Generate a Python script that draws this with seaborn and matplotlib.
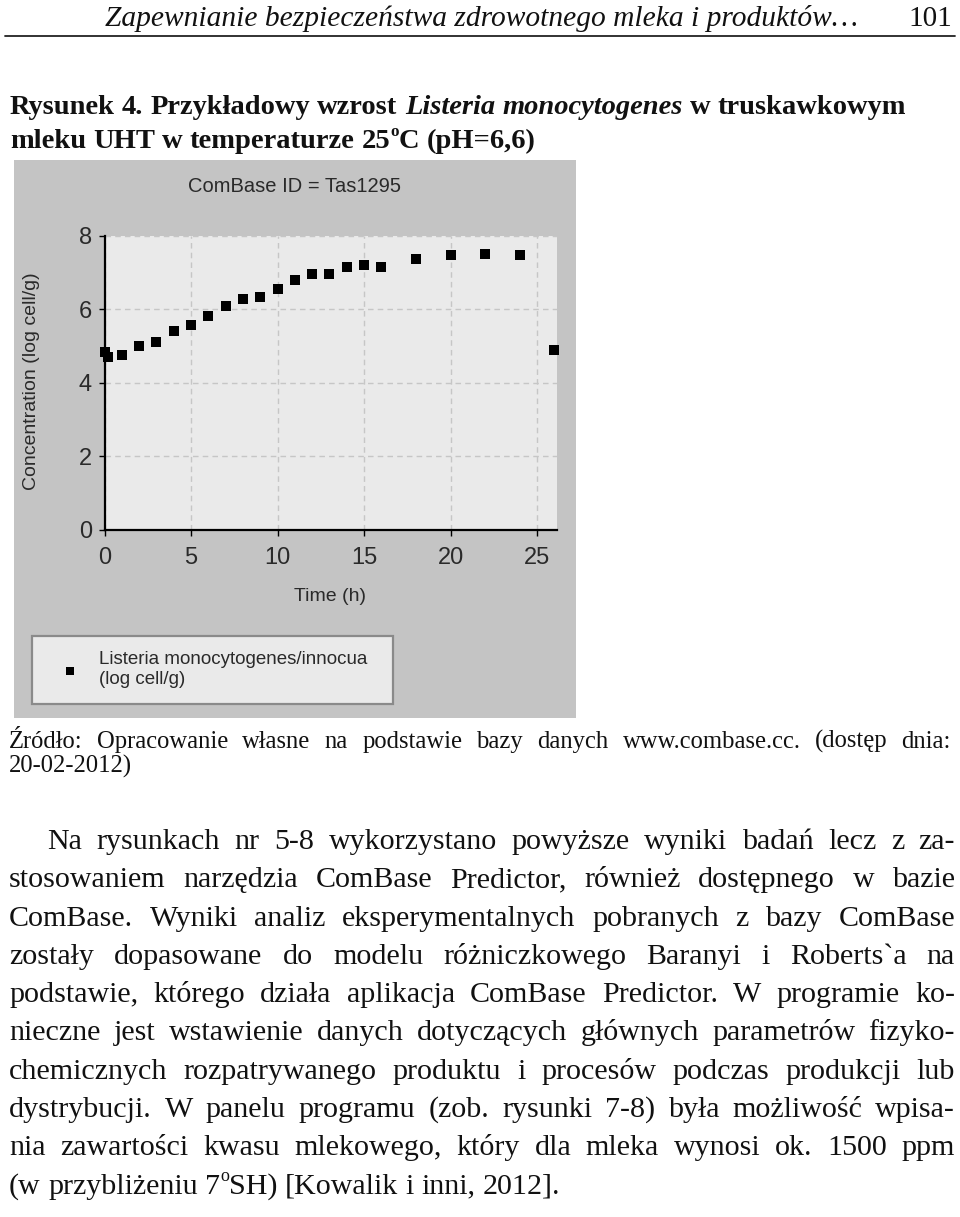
import numpy as np
import pandas as pd
import matplotlib
matplotlib.use('Agg')
import matplotlib.pyplot as plt
import seaborn as sns
from matplotlib import font_manager
from matplotlib.patches import Rectangle
from matplotlib.lines import Line2D

W, H = 960, 1217

# data
time_h = [0, 0.2, 1, 2, 3, 4, 5, 6, 7, 8, 9, 10, 11, 12, 13, 14, 15, 16, 18, 20, 22, 24, 26]
conc = [4.85, 4.70, 4.76, 5.00, 5.10, 5.40, 5.56, 5.83, 6.08, 6.28, 6.33, 6.54, 6.80,
        6.95, 6.95, 7.16, 7.21, 7.16, 7.37, 7.47, 7.51, 7.47, 4.89]
x_ticks = [0, 5, 10, 15, 20, 25]
y_ticks = [0, 2, 4, 6, 8]

chart_title = 'ComBase ID = Tas1295'
x_label = 'Time (h)'
y_label = 'Concentration (log cell/g)'
series_label = 'Listeria monocytogenes/innocua\n(log cell/g)'

# page text (ᵒ is drawn as a small raised "o")
header = 'Zapewnianie bezpieczeństwa zdrowotnego mleka i produktów…'
page_no = '101'
caption_1 = [('Rysunek 4. Przykładowy wzrost', 'normal'), ('Listeria monocytogenes', 'italic'),
             ('w truskawkowym', 'normal')]
caption_2 = 'mleku UHT w temperaturze 25ᵒC (pH=6,6)'
source_lines = ['Źródło: Opracowanie własne na podstawie bazy danych www.combase.cc. (dostęp dnia:',
                '20-02-2012)']
body_lines = [
    'Na rysunkach nr 5-8 wykorzystano powyższe wyniki badań lecz z za-',
    'stosowaniem narzędzia ComBase Predictor, również dostępnego w bazie',
    'ComBase. Wyniki analiz eksperymentalnych pobranych z bazy ComBase',
    'zostały dopasowane do modelu różniczkowego Baranyi i Roberts`a na',
    'podstawie, którego działa aplikacja ComBase Predictor. W programie ko-',
    'nieczne jest wstawienie danych dotyczących głównych parametrów fizyko-',
    'chemicznych rozpatrywanego produktu i procesów podczas produkcji lub',
    'dystrybucji. W panelu programu (zob. rysunki 7-8) była możliwość wpisa-',
    'nia zawartości kwasu mlekowego, który dla mleka wynosi ok. 1500 ppm',
    '(w przybliżeniu 7ᵒSH) [Kowalik i inni, 2012].',
]

names = {f.name for f in font_manager.fontManager.ttflist}
sans = 'Liberation Sans Narrow' if 'Liberation Sans Narrow' in names else 'Liberation Sans'
serif = 'Liberation Serif'

sns.set_style('white')
plt.rcParams['font.family'] = [serif, 'DejaVu Serif']

fig = plt.figure(figsize=(W / 100, H / 100), dpi=100, facecolor='white')
renderer = fig.canvas.get_renderer()


def fx(x):
    return x / W


def fy(y):
    return 1 - y / H


# grey ComBase panel
fig.patches.append(Rectangle((fx(14), fy(718)), (576 - 14) / W, (718 - 160) / H,
                             transform=fig.transFigure, facecolor='#c4c4c4',
                             edgecolor='none', zorder=-10))

ax = fig.add_axes([fx(104.5), fy(530), (557 - 104.5) / W, (530 - 235.7) / H])
df = pd.DataFrame({'time': time_h, 'conc': conc})
sns.scatterplot(data=df, x='time', y='conc', marker='s', s=52, color='black',
                edgecolor='black', linewidth=0, label=series_label, clip_on=False,
                zorder=5, ax=ax)
ax.set_facecolor('#eaeaea')
ax.set_xlim(0, 26.15)
ax.set_ylim(0, 8)
ax.set_xticks(x_ticks)
ax.set_yticks(y_ticks)
ax.grid(True, linestyle=(0, (4, 3)), color='#c6c6c6', linewidth=1)
for side in ['top', 'right']:
    ax.spines[side].set_visible(False)
for side in ['left', 'bottom']:
    ax.spines[side].set_color('black')
    ax.spines[side].set_linewidth(1.6)
ax.tick_params(axis='both', direction='out', length=4, width=1, color='black',
               labelsize=17, labelcolor='#2a2a2a', left=True, bottom=True)
ax.tick_params(axis='x', pad=8)
ax.tick_params(axis='y', pad=5)
for lab in ax.get_xticklabels() + ax.get_yticklabels():
    lab.set_family([sans, 'DejaVu Sans'])
ax.set_xlabel(x_label, fontsize=14, family=[sans, 'DejaVu Sans'], color='#2a2a2a')
ax.set_ylabel(y_label, fontsize=14, family=[sans, 'DejaVu Sans'], color='#2a2a2a')
ax.xaxis.set_label_coords((330 - 104.5) / 452.5, (530 - 588) / 294.3)
ax.yaxis.set_label_coords((40 - 104.5) / 452.5, (530 - 381) / 294.3)
fig.text(fx(294), fy(187), chart_title, ha='center', va='center', fontsize=14.5,
         family=[sans, 'DejaVu Sans'], color='#2a2a2a')

leg = ax.legend(loc='lower left', bbox_to_anchor=(fx(32), fy(704), 361 / W, 74 / H),
                bbox_transform=fig.transFigure, mode='expand', borderaxespad=0,
                borderpad=0.85, handlelength=2.4, handletextpad=0.3, markerscale=0.7,
                fancybox=False, framealpha=1, facecolor='#eaeaea', edgecolor='#8a8a8a',
                prop={'family': [sans, 'DejaVu Sans'], 'size': 13.5})
leg.get_frame().set_linewidth(1.6)
for t in leg.get_texts():
    t.set_color('#2a2a2a')


def make_word(word, y, size, st, weight):
    # one word as a list of text pieces; 'ᵒ' becomes a small raised o
    pieces = []
    parts = word.split('ᵒ')
    for k, part in enumerate(parts):
        if part:
            pieces.append(fig.text(0, fy(y), part, fontsize=size, style=st, weight=weight,
                                   va='baseline', ha='left', color='#111111'))
        if k < len(parts) - 1:
            rise = 0.42 * size * 100 / 72
            pieces.append(fig.text(0, fy(y - rise), 'o', fontsize=size * 0.6, style=st,
                                   weight=weight, va='baseline', ha='left', color='#111111'))
    widths = [t.get_window_extent(renderer).width for t in pieces]
    return pieces, widths


def put_words(y, x0, x1, words, size, justify=True, weight='normal'):
    built = [make_word(w, y, size, st, weight) for w, st in words]
    totals = [sum(ws) for _, ws in built]
    if justify and len(built) > 1:
        gap = (x1 - x0 - sum(totals)) / (len(built) - 1)
    else:
        gap = 0.25 * size * 100 / 72
    x = x0
    for (pieces, ws), tot in zip(built, totals):
        xx = x
        for t, w in zip(pieces, ws):
            t.set_x(fx(xx))
            xx += w
        x += tot + gap


def split(text, st='normal'):
    return [(w, st) for w in text.split(' ')]


def fit_size(text, width, style='normal', weight='normal'):
    t = fig.text(0, 0, text, fontsize=20, style=style, weight=weight)
    w = t.get_window_extent(renderer).width
    t.remove()
    return 20 * width / w


# running header
hsize = fit_size(header, 858 - 105, style='italic')
fig.text(fx(105), fy(26), header, fontsize=hsize, style='italic', va='baseline',
         ha='left', color='#111111')
fig.text(fx(952), fy(26), page_no, fontsize=21, va='baseline', ha='right', color='#111111')
fig.add_artist(Line2D([fx(5), fx(955)], [fy(36), fy(36)], transform=fig.transFigure,
                      color='#222222', linewidth=1.3))

# figure caption
cap_words = []
for seg, st in caption_1:
    cap_words += split(seg, st)
csize = fit_size(' '.join(w for w, _ in cap_words), 905, weight='bold')
put_words(114, 10, 915, cap_words, csize, justify=False, weight='bold')
put_words(148, 10, 915, split(caption_2), csize, justify=False, weight='bold')

# source note
ssize = fit_size(source_lines[0], 870)
put_words(748, 9, 951, split(source_lines[0]), ssize)
put_words(773, 9, 951, split(source_lines[1]), ssize, justify=False)

# body paragraph
bsize = fit_size(body_lines[-1], 552)
for i, line in enumerate(body_lines):
    x0 = 47 if i == 0 else 9
    put_words(849 + i * 38.3, x0, 955, split(line), bsize, justify=(i < len(body_lines) - 1))

fig.savefig('out.png', dpi=100, facecolor='white')
